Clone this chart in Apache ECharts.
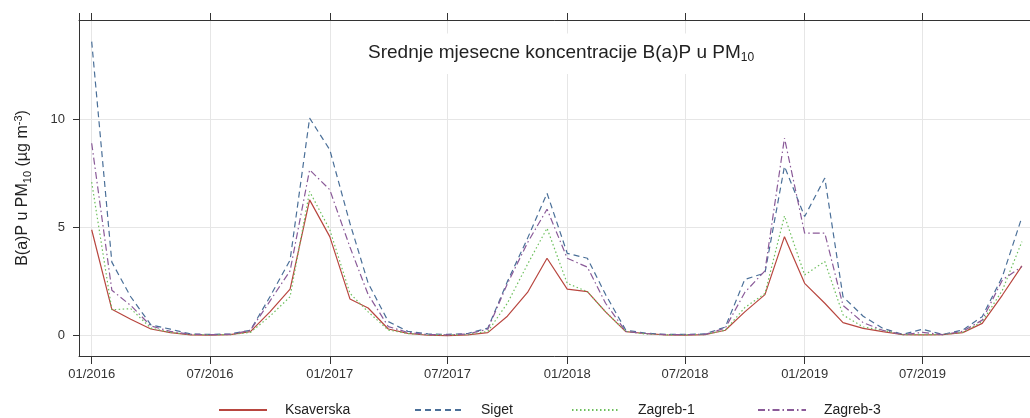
<!DOCTYPE html>
<html>
<head>
<meta charset="utf-8">
<script src="https://cdn.jsdelivr.net/npm/echarts@6/dist/echarts.min.js"></script>
<style>
html, body { margin: 0; padding: 0; background: #fff; }
#chart { width: 1030px; height: 418px; }
</style>
</head>
<body>
<div id="chart"></div>
<script>
// mjeseci 01/2016 - 12/2019
var months = [];
for (var y = 2016; y <= 2019; y++) {
  for (var m = 1; m <= 12; m++) {
    months.push(y + '-' + (m < 10 ? '0' + m : m) + '-01');
  }
}

var ksaverska = [
  4.9, 1.22, 0.76, 0.31, 0.14, 0.04, 0.03, 0.05, 0.19, 1.1, 2.15, 6.28,
  4.58, 1.7, 1.28, 0.31, 0.11, 0.02, 0.0, 0.04, 0.14, 0.9, 2.0, 3.58,
  2.15, 2.04, 1.1, 0.19, 0.1, 0.04, 0.03, 0.05, 0.25, 1.1, 1.9, 4.58,
  2.42, 1.5, 0.6, 0.34, 0.19, 0.05, 0.04, 0.05, 0.14, 0.57, 1.88, 3.23
];
var siget = [
  13.6, 3.4, 1.8, 0.5, 0.3, 0.08, 0.06, 0.08, 0.25, 1.8, 3.5, 10.06,
  8.6, 5.2, 2.43, 0.65, 0.2, 0.08, 0.06, 0.1, 0.35, 2.5, 4.5, 6.59,
  3.81, 3.58, 1.9, 0.26, 0.12, 0.06, 0.06, 0.08, 0.4, 2.6, 2.9, 7.83,
  5.51, 7.29, 1.8, 0.9, 0.34, 0.06, 0.3, 0.06, 0.26, 0.88, 2.73, 5.48
];
var zagreb1 = [
  7.1, 1.2, 1.25, 0.35, 0.15, 0.05, 0.04, 0.05, 0.15, 0.9, 1.8, 6.67,
  4.9, 1.96, 1.1, 0.26, 0.1, 0.04, 0.03, 0.05, 0.2, 1.5, 3.3, 4.97,
  2.42, 2.04, 1.1, 0.2, 0.08, 0.04, 0.04, 0.05, 0.25, 1.3, 1.95, 5.54,
  2.81, 3.43, 0.96, 0.4, 0.25, 0.05, 0.05, 0.05, 0.15, 0.65, 2.1, 4.35
];
var zagreb3 = [
  8.9, 2.1, 1.4, 0.45, 0.2, 0.06, 0.05, 0.06, 0.25, 1.6, 3.0, 7.67,
  6.75, 4.1, 1.9, 0.42, 0.15, 0.05, 0.04, 0.08, 0.3, 2.4, 4.3, 5.85,
  3.58, 3.17, 1.5, 0.2, 0.1, 0.05, 0.05, 0.06, 0.35, 2.0, 3.0, 9.14,
  4.74, 4.74, 1.4, 0.6, 0.25, 0.05, 0.15, 0.05, 0.2, 0.72, 2.58, 3.2
];

var names = ['Ksaverska', 'Siget', 'Zagreb-1', 'Zagreb-3'];
var values = [ksaverska, siget, zagreb1, zagreb3];
var colors = ['#b8463f', '#4a6f98', '#6cbf5c', '#8a5a98'];
var dashes = ['solid', [6, 4], [1.5, 2.5], [7, 3, 1.5, 3]];
var legendLeft = [218, 414, 571, 757];
var yTicks = [0, 5, 10];

var xMin = '2015-12-12 12:00';
var xMax = '2020-01-05 12:00';
var lastMonth = +echarts.time.parse(months[months.length - 1]);

var myChart = echarts.init(document.getElementById('chart'));

function fmt(v) {
  // oznaka za 01/2020 pada izvan slike
  if (v > lastMonth) return '';
  return echarts.time.format(v, '{MM}/{yyyy}', false);
}

var option = {
  animation: false,
  backgroundColor: '#fff',
  textStyle: { fontFamily: 'Liberation Sans, Arial, sans-serif' },
  title: {
    text: 'Srednje mjesecne koncentracije B(a)P u PM{sub|10}',
    left: 354,
    top: 32,
    padding: [10, 14],
    backgroundColor: '#fff',
    textStyle: {
      fontSize: 19,
      fontWeight: 'normal',
      color: '#222',
      rich: {
        sub: { fontSize: 12, color: '#222', padding: [10, 0, 0, 0] }
      }
    }
  },
  grid: { left: 79, top: 20, right: -15, bottom: 62, outerBoundsMode: 'none' },
  legend: names.map(function (n, i) {
    return {
      data: [n],
      left: legendLeft[i],
      top: 403,
      padding: 0,
      itemWidth: 48,
      itemHeight: 14,
      itemStyle: { color: 'transparent', borderColor: 'transparent', borderWidth: 0 },
      textStyle: { fontSize: 14, color: '#222', padding: [0, 0, 0, 13] }
    };
  }),
  xAxis: [
    {
      type: 'time',
      min: xMin,
      max: xMax,
      splitNumber: 8,
      axisLine: { onZero: false, lineStyle: { color: '#333' } },
      axisTick: { length: 8, lineStyle: { color: '#333' } },
      axisLabel: { formatter: fmt, fontSize: 13, color: '#333', margin: 12 },
      splitLine: { show: true, lineStyle: { color: '#e6e6e6' } }
    },
    {
      type: 'time',
      position: 'top',
      min: xMin,
      max: xMax,
      splitNumber: 8,
      axisLine: { onZero: false, lineStyle: { color: '#333' } },
      axisTick: { length: 7, lineStyle: { color: '#333' } },
      axisLabel: { show: false },
      splitLine: { show: false }
    }
  ],
  yAxis: {
    type: 'value',
    min: -0.94,
    max: 14.6,
    splitNumber: 3,
    name: 'B(a)P u PM{sub|10} (µg m{sup|-3})',
    nameLocation: 'middle',
    nameRotate: 90,
    nameGap: 46,
    nameTextStyle: {
      fontSize: 16,
      color: '#222',
      rich: {
        sub: { fontSize: 11, color: '#222', padding: [9, 0, 0, 0] },
        sup: { fontSize: 11, color: '#222', padding: [0, 0, 9, 0] }
      }
    },
    axisLine: { show: true, lineStyle: { color: '#333' } },
    axisTick: { show: true, length: 6, customValues: yTicks, lineStyle: { color: '#333' } },
    axisLabel: { customValues: yTicks, fontSize: 13, color: '#333', margin: 14 },
    splitLine: { show: true, lineStyle: { color: '#e6e6e6' } }
  },
  series: names.map(function (n, i) {
    return {
      name: n,
      type: 'line',
      symbol: 'none',
      data: months.map(function (d, j) { return [d, values[i][j]]; }),
      lineStyle: { color: colors[i], width: 1.2, type: dashes[i] },
      itemStyle: { color: colors[i] }
    };
  })
};

myChart.setOption(option);
</script>
</body>
</html>
